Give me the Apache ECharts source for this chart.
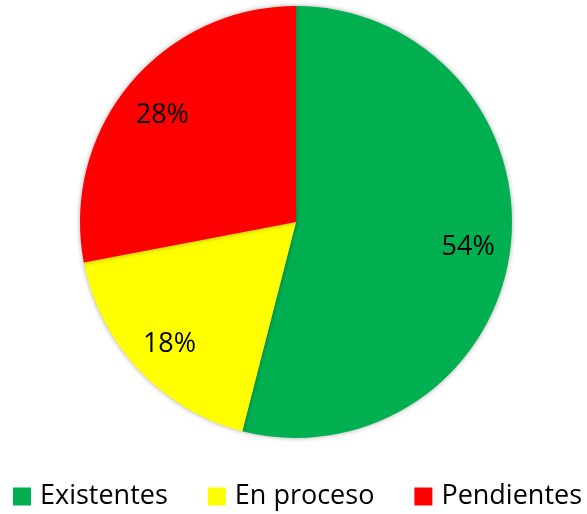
<!DOCTYPE html>
<html>
<head>
<meta charset="utf-8">
<script src="https://cdn.jsdelivr.net/npm/echarts@6/dist/echarts.min.js"></script>
<style>
  html, body { margin: 0; padding: 0; background: #fff; }
  #chart-container { width: 587px; height: 514px; }
</style>
</head>
<body>
<div id="chart-container"></div>
<script>
  // datos
  var categories = ["Existentes", "En proceso", "Pendientes"];
  var values = [54, 18, 28];
  var colors = ["#00B050", "#FFFF00", "#FF0000"];

  var dom = document.getElementById("chart-container");
  var myChart = echarts.init(dom, null, { renderer: "canvas" });

  var pieData = categories.map(function (name, i) {
    return { name: name, value: values[i] };
  });

  var option = {
    animation: false,
    color: colors,
    legend: {
      data: categories,
      left: 8,
      width: 580,
      top: 478,
      icon: "rect",
      itemWidth: 18,
      itemHeight: 18,
      itemGap: 40,
      textStyle: {
        fontFamily: "Open Sans",
        fontSize: 27,
        color: "#000",
        padding: [0, 0, 0, 4],
      },
    },
    series: [
      {
        // tarta principal
        name: "Estado",
        type: "pie",
        center: [296, 222],
        radius: 216,
        startAngle: 90,
        clockwise: true,
        label: { show: false },
        labelLine: { show: false },
        itemStyle: {
          shadowBlur: 5,
          shadowColor: "rgba(0,0,0,0.35)",
        },
        data: pieData,
      },
      {
        // anillo transparente solo para las etiquetas
        name: "Etiquetas",
        type: "pie",
        silent: true,
        center: [296, 222],
        radius: [125, 216],
        startAngle: 90,
        clockwise: true,
        itemStyle: { color: "transparent" },
        label: {
          show: true,
          position: "inside",
          formatter: "{d}%",
          fontFamily: "Open Sans",
          fontSize: 27,
          color: "#000",
          offset: [0, 4],
        },
        labelLine: { show: false },
        data: pieData,
      },
    ],
  };

  myChart.setOption(option);
</script>
</body>
</html>
